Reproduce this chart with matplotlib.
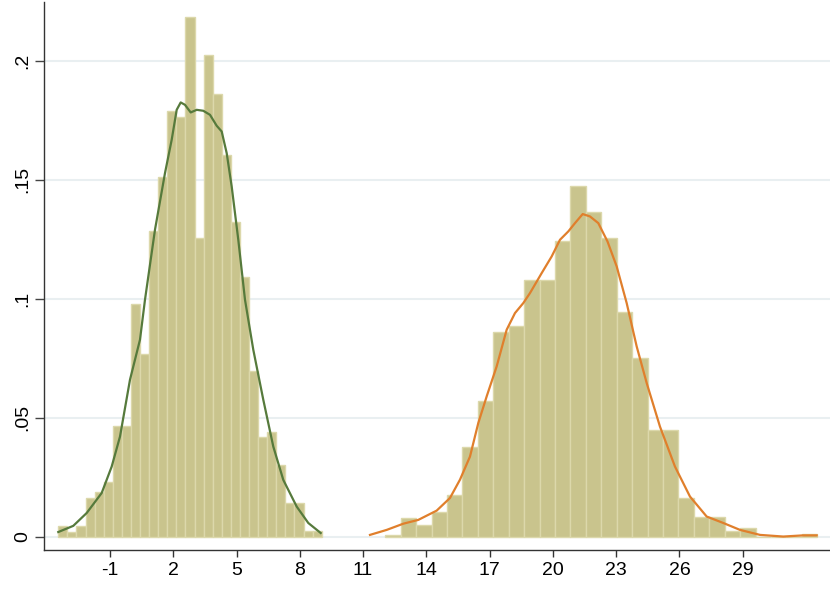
import matplotlib
matplotlib.use("Agg")
import matplotlib.pyplot as plt
import numpy as np

# ---- data ----
left_bin_start = -3.452
left_bin_width = 0.4307
left_heights = [0.0046, 0.0022, 0.0046, 0.0164, 0.0189, 0.0232, 0.0466, 0.0466,
                0.0978, 0.0768, 0.1283, 0.1512, 0.1790, 0.1765, 0.2186, 0.1254,
                0.2023, 0.1861, 0.1603, 0.1324, 0.1092, 0.0697, 0.0419, 0.0440,
                0.0302, 0.0141, 0.0141, 0.0023, 0.0023]

right_bin_start = 12.052
right_bin_width = 0.7316
right_heights = [0.0008, 0.0078, 0.0049, 0.0106, 0.0175, 0.0378, 0.0571, 0.0859,
                 0.0887, 0.1080, 0.1080, 0.1244, 0.1475, 0.1366, 0.1255, 0.0945,
                 0.0752, 0.0450, 0.0450, 0.0161, 0.0082, 0.0082, 0.0025, 0.0037,
                 0.0, 0.0, 0.0, 0.0011]

left_kde_x = [-3.452, -2.741, -2.105, -1.394, -0.920, -0.526, -0.052, 0.422, 0.659,
              1.133, 1.607, 1.925, 2.162, 2.352, 2.556, 2.826, 3.111, 3.423, 3.741,
              4.059, 4.296, 4.533, 4.770, 5.083, 5.401, 5.794, 6.268, 6.743, 7.217,
              7.852, 8.402, 8.990]
left_kde_y = [0.0020, 0.0046, 0.0100, 0.0184, 0.0295, 0.0421, 0.0660, 0.0828, 0.0996,
              0.1290, 0.1528, 0.1668, 0.1794, 0.1825, 0.1815, 0.1783, 0.1794, 0.1790,
              0.1773, 0.1727, 0.1703, 0.1612, 0.1472, 0.1248, 0.0996, 0.0786, 0.0576,
              0.0379, 0.0239, 0.0127, 0.0058, 0.0016]

right_kde_x = [11.328, 12.120, 12.907, 13.618, 14.490, 15.121, 15.595, 16.069, 16.463,
               16.861, 17.335, 17.809, 18.203, 18.597, 18.914, 19.469, 19.943, 20.337,
               20.730, 21.048, 21.413, 21.759, 22.153, 22.589, 23.025, 23.499, 23.973,
               24.448, 25.078, 25.789, 26.501, 27.293, 28.080, 28.872, 29.820, 30.925,
               31.873, 32.508]
right_kde_y = [0.0008, 0.0029, 0.0055, 0.0071, 0.0110, 0.0163, 0.0240, 0.0337, 0.0478,
               0.0590, 0.0716, 0.0870, 0.0940, 0.0982, 0.1024, 0.1108, 0.1178, 0.1248,
               0.1283, 0.1318, 0.1356, 0.1346, 0.1318, 0.1241, 0.1136, 0.0982, 0.0800,
               0.0646, 0.0463, 0.0295, 0.0169, 0.0085, 0.0058, 0.0029, 0.0008, 0.0001,
               0.0006, 0.0006]

x_ticks = [-1, 2, 5, 8, 11, 14, 17, 20, 23, 26, 29]
y_ticks = [0, 0.05, 0.1, 0.15, 0.2]
y_tick_labels = ["0", ".05", ".1", ".15", ".2"]

# ---- figure ----
plt.rcParams['font.family'] = ['Liberation Sans', 'DejaVu Sans']
fig = plt.figure(figsize=(8.3, 5.9), dpi=100)
ax = fig.add_axes([0.053, 0.068, 0.947, 0.929])

bar_face = "#c9c48d"
bar_edge = "#dcd8ab"

for y in y_ticks:
    ax.axhline(y, color="#e9eff1", lw=1.5, zorder=0)

lx = left_bin_start + left_bin_width * np.arange(len(left_heights))
ax.bar(lx, left_heights, width=left_bin_width, align="edge",
       color=bar_face, edgecolor=bar_edge, linewidth=1.0, zorder=2)
rx = right_bin_start + right_bin_width * np.arange(len(right_heights))
ax.bar(rx, right_heights, width=right_bin_width, align="edge",
       color=bar_face, edgecolor=bar_edge, linewidth=1.0, zorder=2)

ax.plot(left_kde_x, left_kde_y, color="#567a3c", lw=1.6, zorder=3,
        solid_joinstyle="round")
ax.plot(right_kde_x, right_kde_y, color="#e07f2c", lw=1.6, zorder=3,
        solid_joinstyle="round")

ax.set_xlim(-4.13, 33.14)
ax.set_ylim(-0.0055, 0.2248)

ax.set_xticks(x_ticks)
ax.set_xticklabels([str(t) for t in x_ticks], fontsize=14)
ax.set_yticks(y_ticks)
ax.set_yticklabels(y_tick_labels, fontsize=14, rotation=90, va="center")

for s in ["top", "right"]:
    ax.spines[s].set_visible(False)
for s in ["left", "bottom"]:
    ax.spines[s].set_color("#333333")
    ax.spines[s].set_linewidth(1.0)
ax.tick_params(axis="x", direction="out", length=5, width=1.0,
               color="#333333", labelcolor="black", pad=4)
ax.tick_params(axis="y", direction="out", length=6.5, width=1.0,
               color="#444444", labelcolor="black", pad=3)

fig.savefig("out.png", dpi=100, facecolor="white")
